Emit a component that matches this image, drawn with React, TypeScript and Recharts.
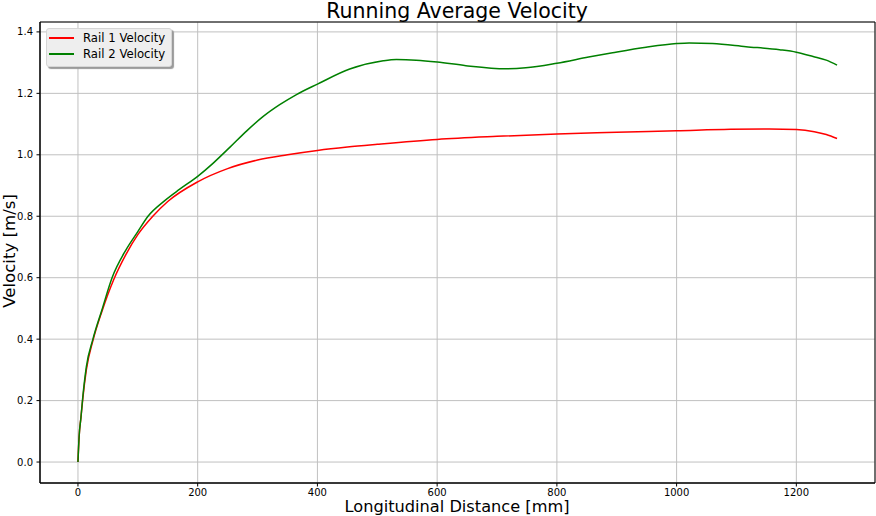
import React from "react";
import {
  LineChart,
  Line,
  XAxis,
  YAxis,
  CartesianGrid,
  ReferenceArea,
} from "recharts";

// Rail 1 (red)
const rail1X = [0, 2, 5, 8, 14, 25, 40, 60, 80, 100, 125, 150, 200, 250, 300, 350, 400, 450, 500, 600, 700, 800, 900, 1000, 1090, 1155, 1200, 1230, 1250, 1268];
const rail1V = [0, 0.085, 0.145, 0.205, 0.3, 0.395, 0.49, 0.595, 0.675, 0.74, 0.8, 0.848, 0.912, 0.955, 0.983, 1.0, 1.014, 1.025, 1.034, 1.05, 1.06, 1.068, 1.073, 1.078, 1.083, 1.084, 1.082, 1.075, 1.066, 1.053];

// Rail 2 (green)
const rail2X = [0, 2, 5, 8, 14, 25, 40, 57, 80, 100, 117, 145, 170, 200, 226, 254, 282, 309, 337, 365, 400, 454, 510, 532, 565, 600, 648, 715, 748, 800, 853, 893, 949, 1000, 1021, 1060, 1116, 1172, 1200, 1228, 1250, 1268];
const rail2V = [0, 0.085, 0.145, 0.21, 0.31, 0.4, 0.495, 0.6, 0.69, 0.75, 0.8, 0.851, 0.888, 0.93, 0.973, 1.025, 1.078, 1.124, 1.163, 1.196, 1.23, 1.279, 1.306, 1.31, 1.308, 1.302, 1.29, 1.28, 1.283, 1.298, 1.318, 1.332, 1.35, 1.362, 1.364, 1.362, 1.352, 1.342, 1.334, 1.32, 1.308, 1.292];

const xTicks = [0, 200, 400, 600, 800, 1000, 1200];
const yTicks = [0, 0.2, 0.4, 0.6, 0.8, 1.0, 1.2, 1.4];
const xDomain: [number, number] = [-63.4, 1331.4];
const yDomain: [number, number] = [-0.0682, 1.4322];

const series = [
  { name: "Rail 1 Velocity", color: "#ff0000", xs: rail1X, vs: rail1V },
  { name: "Rail 2 Velocity", color: "#008000", xs: rail2X, vs: rail2V },
];

const FONT = "'DejaVu Sans', sans-serif";

function LegendBox() {
  return (
    <div
      style={{
        position: "absolute",
        left: 46,
        top: 28,
        width: 124,
        height: 37,
        background: "#eeeeee",
        border: "1px solid #d6d6d6",
        borderRadius: 3,
        boxShadow: "2px 2px 1px #9a9a9a",
        fontFamily: FONT,
        fontSize: 11.7,
        color: "#000",
      }}
    >
      {series.map((s, i) => (
        <div
          key={s.name}
          style={{ position: "absolute", left: 2, top: 1 + i * 16, height: 16, display: "flex", alignItems: "center" }}
        >
          <span style={{ display: "inline-block", width: 25, height: 2, background: s.color }} />
          <span style={{ marginLeft: 9, whiteSpace: "nowrap" }}>{s.name}</span>
        </div>
      ))}
    </div>
  );
}

export default function App() {
  return (
    <div style={{ position: "relative", width: 876, height: 516, background: "#fff" }}>
      <style>{`body{margin:0}`}</style>
      <LineChart width={876} height={516} margin={{ top: 22, right: 1, bottom: 0, left: 0 }}>
        <CartesianGrid stroke="#c0c0c0" strokeWidth={1} />
        <XAxis
          type="number"
          dataKey="x"
          domain={xDomain}
          ticks={xTicks}
          allowDataOverflow
          height={33}
          tickSize={3.5}
          tickMargin={2}
          axisLine={{ stroke: "#000" }}
          tickLine={{ stroke: "#000" }}
          tick={{ fontSize: 10, fill: "#000", fontFamily: FONT }}
        />
        <YAxis
          type="number"
          domain={yDomain}
          ticks={yTicks}
          allowDataOverflow
          width={40}
          tickSize={3.5}
          tickMargin={3.5}
          tickFormatter={(v: number) => v.toFixed(1)}
          axisLine={{ stroke: "#000" }}
          tickLine={{ stroke: "#000" }}
          tick={{ fontSize: 10, fill: "#000", fontFamily: FONT }}
        />
        <ReferenceArea
          x1={xDomain[0]}
          x2={xDomain[1]}
          y1={yDomain[0]}
          y2={yDomain[1]}
          fill="none"
          stroke="#000"
          strokeWidth={1}
        />
        {series.map((s) => (
          <Line
            key={s.name}
            name={s.name}
            data={s.xs.map((x, i) => ({ x, v: s.vs[i] }))}
            dataKey="v"
            type="monotone"
            stroke={s.color}
            strokeWidth={1.5}
            dot={false}
            activeDot={false}
            isAnimationActive={false}
          />
        ))}
      </LineChart>
      <LegendBox />
      <svg
        width={876}
        height={516}
        style={{ position: "absolute", left: 0, top: 0, pointerEvents: "none" }}
        fontFamily={FONT}
      >
        <text x={457} y={18} textAnchor="middle" fontSize={20.5} fill="#000">
          Running Average Velocity
        </text>
        <text x={457} y={512} textAnchor="middle" fontSize={16.2} fill="#000">
          Longitudinal Distance [mm]
        </text>
        <text transform="translate(15,251) rotate(-90)" textAnchor="middle" fontSize={16.6} fill="#000">
          Velocity [m/s]
        </text>
      </svg>
    </div>
  );
}
